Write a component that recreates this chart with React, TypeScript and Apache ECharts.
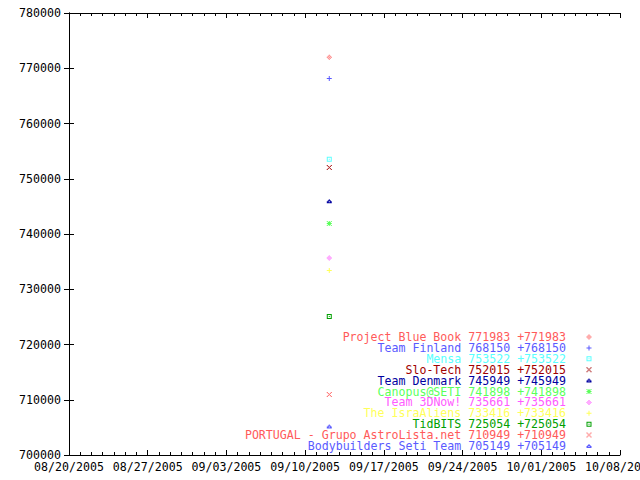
import React, { useEffect, useRef } from "react";
import * as echarts from "echarts";

// ---- data ----
const axisStart = "2005-08-20T00:00:00Z";
const axisDays = 49;
const weekDays = 7;
const yMin = 700000;
const yMax = 780000;
const yStep = 10000;

const teams = [
  "Project Blue Book",
  "Team Finland",
  "Mensa",
  "Slo-Tech",
  "Team Denmark",
  "Canopus@SETI",
  "Team 3DNow!",
  "The IsraAliens",
  "TidBITS",
  "PORTUGAL - Grupo AstroLista.net",
  "Bodybuilders Seti Team",
];
const scores = [771983, 768150, 753522, 752015, 745949, 741898, 735661, 733416, 725054, 710949, 705149];
const gains = [771983, 768150, 753522, 752015, 745949, 741898, 735661, 733416, 725054, 710949, 705149];
const sampleTimes = [
  "2005-09-12T03:30:00Z",
  "2005-09-12T03:30:00Z",
  "2005-09-12T03:30:00Z",
  "2005-09-12T03:30:00Z",
  "2005-09-12T03:30:00Z",
  "2005-09-12T03:30:00Z",
  "2005-09-12T03:30:00Z",
  "2005-09-12T03:30:00Z",
  "2005-09-12T03:30:00Z",
  "2005-09-12T03:30:00Z",
  "2005-09-12T03:30:00Z",
];

// ---- styles ----
const colors = [
  "#ff5a5a",
  "#5a5aff",
  "#5affff",
  "#a00000",
  "#0000a0",
  "#5aff5a",
  "#ff5aff",
  "#ffff5a",
  "#00a000",
  "#ff5a5a",
  "#5a5aff",
];

const shapes: Record<string, string[]> = {
  diamond: ["..#..", ".#.#.", "#.#.#", ".#.#.", "..#.."],
  plus: ["..#..", "..#..", "#####", "..#..", "..#.."],
  box: ["#####", "#...#", "#.#.#", "#...#", "#####"],
  cross: ["#...#", ".#.#.", "..#..", ".#.#.", "#...#"],
  triangle: ["..#..", ".###.", "##.##", "#####"],
  star: ["#.#.#", ".###.", "#####", ".###.", "#.#.#"],
};
const shapeOrder = ["diamond", "plus", "box", "cross", "triangle", "star"];

function pixPath(rows: string[]): string {
  let d = "";
  rows.forEach((row, y) => {
    for (let x = 0; x < row.length; x++) {
      if (row[x] === "#") d += `M${x} ${y}h1v1h-1Z`;
    }
  });
  return "path://" + d;
}

const FONT = "'DejaVu Sans Mono', 'Liberation Mono', monospace";
const FS = 11.6;
const DAY = 86400000;
const t0 = Date.parse(axisStart);

function dayLabel(v: number): string {
  const d = new Date(t0 + v * DAY);
  const mm = String(d.getUTCMonth() + 1).padStart(2, "0");
  const dd = String(d.getUTCDate()).padStart(2, "0");
  return `${mm}/${dd}/${d.getUTCFullYear()}`;
}

export default function App() {
  const ref = useRef<HTMLDivElement>(null);
  useEffect(() => {
    if (!ref.current) return;
    const chart = echarts.init(ref.current, undefined, { renderer: "svg" });

    const axisLine = { show: true, lineStyle: { color: "#000", width: 1 } };
    const xCommon = {
      type: "value" as const,
      min: 0,
      max: axisDays,
      interval: weekDays,
      axisLine,
      axisTick: { show: true, inside: true, length: 5, lineStyle: { color: "#000" } },
      minorTick: { show: true, splitNumber: weekDays, length: 3, lineStyle: { color: "#000" } },
      splitLine: { show: false },
      minorSplitLine: { show: false },
    };
    const yCommon = {
      type: "value" as const,
      min: yMin,
      max: yMax,
      interval: yStep,
      axisLine,
      axisTick: { show: true, inside: true, length: 5, lineStyle: { color: "#000" } },
      splitLine: { show: false },
    };

    const series = teams.map((name, i) => {
      const shape = shapes[shapeOrder[i % shapeOrder.length]];
      const x = (Date.parse(sampleTimes[i]) - t0) / DAY;
      return {
        type: "scatter" as const,
        name,
        xAxisIndex: 0,
        yAxisIndex: 0,
        data: [[x, scores[i]]],
        symbol: pixPath(shape),
        symbolSize: [shape[0].length, shape.length],
        itemStyle: { color: colors[i], opacity: 1 },
        emphasis: { disabled: true },
        silent: true,
      };
    });

    chart.setOption({
      animation: false,
      backgroundColor: "#fff",
      grid: { left: 69, right: 20, top: 13, bottom: 25, containLabel: false, outerBoundsMode: "none" },
      xAxis: [
        {
          ...xCommon,
          position: "bottom",
          axisLabel: {
            show: true,
            formatter: (v: number) => dayLabel(v),
            color: "#000",
            fontFamily: FONT,
            fontSize: FS,
            margin: 6,
            showMinLabel: true,
            showMaxLabel: true,
            hideOverlap: false,
          },
        },
        { ...xCommon, position: "top", axisLabel: { show: false } },
      ],
      yAxis: [
        {
          ...yCommon,
          position: "left",
          axisLabel: {
            show: true,
            formatter: (v: number) => String(v),
            color: "#000",
            fontFamily: FONT,
            fontSize: FS,
            margin: 8,
          },
        },
        { ...yCommon, position: "right", axisLabel: { show: false } },
      ],
      legend: {
        orient: "vertical",
        align: "right",
        right: 48.5,
        top: 331,
        padding: 0,
        itemGap: -1.1,
        itemWidth: 5,
        itemHeight: 5,
        selectedMode: false,
        data: teams.map((t, i) => ({ name: t, textStyle: { color: colors[i] } })),
        formatter: (name: string) => {
          const i = teams.indexOf(name);
          return `${name} ${scores[i]} +${gains[i]}{s| }`;
        },
        textStyle: {
          fontFamily: FONT,
          fontSize: FS,
          lineHeight: 10.9,
          rich: { s: { width: 15.5, fontFamily: FONT, fontSize: FS, lineHeight: 10.9 } },
        },
      },
      series,
    });
    return () => chart.dispose();
  }, []);

  return (
    <div
      ref={ref}
      style={{ position: "fixed", left: 0, top: 0, width: 640, height: 480, background: "#fff" }}
    />
  );
}
